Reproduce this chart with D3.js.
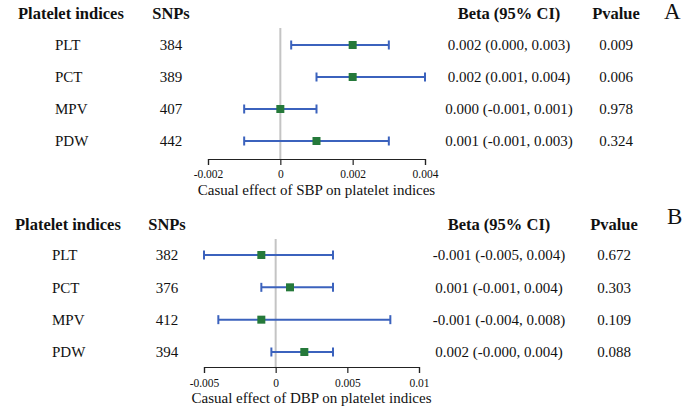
<!DOCTYPE html>
<html>
<head>
<meta charset="utf-8">
<script src="https://cdn.jsdelivr.net/npm/d3@7"></script>
<style>
  body { margin: 0; background: #fff; }
  svg text { font-family: "Liberation Serif", "Times New Roman", serif; fill: #111; }
</style>
</head>
<body>
<script>
// row categories (same in both panels)
var indices = ["PLT", "PCT", "MPV", "PDW"];

// panel A: SBP
var snpsA = [384, 389, 407, 442];
var betaA = [0.002, 0.002, 0.000, 0.001];
var lowA = [0.0003, 0.001, -0.001, -0.001];
var highA = [0.003, 0.004, 0.001, 0.003];
var ciTextA = ["0.002 (0.000, 0.003)", "0.002 (0.001, 0.004)", "0.000 (-0.001, 0.001)", "0.001 (-0.001, 0.003)"];
var pvalA = ["0.009", "0.006", "0.978", "0.324"];
var ticksA = [-0.002, 0, 0.002, 0.004];
var tickLabelsA = ["-0.002", "0", "0.002", "0.004"];

// panel B: DBP
var snpsB = [382, 376, 412, 394];
var betaB = [-0.001, 0.001, -0.001, 0.002];
var lowB = [-0.005, -0.001, -0.004, -0.0003];
var highB = [0.004, 0.004, 0.008, 0.004];
var ciTextB = ["-0.001 (-0.005, 0.004)", "0.001 (-0.001, 0.004)", "-0.001 (-0.004, 0.008)", "0.002 (-0.000, 0.004)"];
var pvalB = ["0.672", "0.303", "0.109", "0.088"];
var ticksB = [-0.005, 0, 0.005, 0.01];
var tickLabelsB = ["-0.005", "0", "0.005", "0.01"];

var svg = d3.select("body").append("svg")
    .attr("width", 685)
    .attr("height", 420);

function drawPanel(p) {
    var g = svg.append("g");

    var x = d3.scaleLinear().domain(p.domain).range([p.x0, p.x1]);
    var y = d3.scalePoint().domain(indices).range([p.rowTop, p.rowBottom]);

    // headers
    g.append("text").attr("x", p.labelHeadX).attr("y", p.headY).attr("dy", "0.35em")
        .style("font-weight", "bold").style("font-size", "16.5px").text("Platelet indices");
    g.append("text").attr("x", p.snpX).attr("y", p.headY).attr("dy", "0.35em")
        .attr("text-anchor", "middle").style("font-weight", "bold").style("font-size", "16.5px").text("SNPs");
    g.append("text").attr("x", p.ciX).attr("y", p.headY).attr("dy", "0.35em")
        .attr("text-anchor", "middle").style("font-weight", "bold").style("font-size", "16.5px").text("Beta (95% CI)");
    g.append("text").attr("x", p.pX).attr("y", p.headY).attr("dy", "0.35em")
        .attr("text-anchor", "middle").style("font-weight", "bold").style("font-size", "16.5px").text("Pvalue");
    g.append("text").attr("x", p.letterX).attr("y", p.letterY).attr("dy", "0.35em")
        .style("font-size", "23px").text(p.letter);

    // zero line
    g.append("line")
        .attr("x1", x(0)).attr("x2", x(0))
        .attr("y1", p.zeroTop).attr("y2", p.axisY)
        .attr("stroke", "#c4c4c4").attr("stroke-width", 2);

    // table columns
    var rows = g.selectAll(".row").data(indices).enter().append("g").attr("class", "row");
    rows.append("text").attr("x", p.labelX).attr("y", function (d) { return y(d); }).attr("dy", "0.35em")
        .style("font-size", "15px").text(function (d) { return d; });
    rows.append("text").attr("x", p.snpX).attr("y", function (d) { return y(d); }).attr("dy", "0.35em")
        .attr("text-anchor", "middle").style("font-size", "15px").text(function (d, i) { return p.snps[i]; });
    rows.append("text").attr("x", p.ciX).attr("y", function (d) { return y(d); }).attr("dy", "0.35em")
        .attr("text-anchor", "middle").style("font-size", "15px").text(function (d, i) { return p.ciText[i]; });
    rows.append("text").attr("x", p.pX).attr("y", function (d) { return y(d); }).attr("dy", "0.35em")
        .attr("text-anchor", "middle").style("font-size", "15px").text(function (d, i) { return p.pval[i]; });

    // CI lines + caps
    var blue = "#3b62bd";
    rows.append("line")
        .attr("x1", function (d, i) { return x(p.low[i]); })
        .attr("x2", function (d, i) { return x(p.high[i]); })
        .attr("y1", function (d) { return y(d); }).attr("y2", function (d) { return y(d); })
        .attr("stroke", blue).attr("stroke-width", 2);
    rows.append("line")
        .attr("x1", function (d, i) { return x(p.low[i]); })
        .attr("x2", function (d, i) { return x(p.low[i]); })
        .attr("y1", function (d) { return y(d) - 4.5; }).attr("y2", function (d) { return y(d) + 4.5; })
        .attr("stroke", blue).attr("stroke-width", 2);
    rows.append("line")
        .attr("x1", function (d, i) { return x(p.high[i]); })
        .attr("x2", function (d, i) { return x(p.high[i]); })
        .attr("y1", function (d) { return y(d) - 4.5; }).attr("y2", function (d) { return y(d) + 4.5; })
        .attr("stroke", blue).attr("stroke-width", 2);

    // point estimate
    rows.append("rect")
        .attr("x", function (d, i) { return x(p.beta[i]) - 4; })
        .attr("y", function (d) { return y(d) - 4; })
        .attr("width", 8).attr("height", 8)
        .attr("fill", "#25793a");

    // x axis
    var axis = g.append("g")
        .attr("transform", "translate(0," + p.axisY + ")")
        .call(d3.axisBottom(x).tickValues(p.ticks).tickSizeOuter(0).tickSize(6)
            .tickFormat(function (d, i) { return p.tickLabels[i]; }));
    axis.select(".domain").attr("stroke", "#222").attr("stroke-width", 1.2);
    axis.selectAll(".tick line").attr("stroke", "#222").attr("stroke-width", 1.2);
    axis.selectAll(".tick text")
        .attr("y", p.tickLabelY - p.axisY).attr("dy", "0.35em")
        .style("font-family", "'Liberation Serif', serif")
        .style("font-size", "11.5px").attr("fill", "#111");

    g.append("text")
        .attr("x", (p.x0 + p.x1) / 2).attr("y", p.titleY).attr("dy", "0.35em")
        .attr("text-anchor", "middle").style("font-size", "15px")
        .text(p.title);
}

drawPanel({
    letter: "A", title: "Casual effect of SBP on platelet indices",
    snps: snpsA, beta: betaA, low: lowA, high: highA, ciText: ciTextA, pval: pvalA,
    ticks: ticksA, tickLabels: tickLabelsA, domain: [-0.002, 0.004],
    x0: 208, x1: 425, rowTop: 45, rowBottom: 141, headY: 13, zeroTop: 28, axisY: 159,
    tickLabelY: 174, titleY: 190, labelHeadX: 18, labelX: 55, snpX: 171, ciX: 509, pX: 616,
    letterX: 664, letterY: 11
});

drawPanel({
    letter: "B", title: "Casual effect of DBP on platelet indices",
    snps: snpsB, beta: betaB, low: lowB, high: highB, ciText: ciTextB, pval: pvalB,
    ticks: ticksB, tickLabels: tickLabelsB, domain: [-0.005, 0.01],
    x0: 204, x1: 419, rowTop: 255, rowBottom: 352, headY: 224, zeroTop: 239, axisY: 367,
    tickLabelY: 383, titleY: 398, labelHeadX: 15, labelX: 52, snpX: 167, ciX: 499, pX: 614,
    letterX: 667, letterY: 216
});
</script>
</body>
</html>
